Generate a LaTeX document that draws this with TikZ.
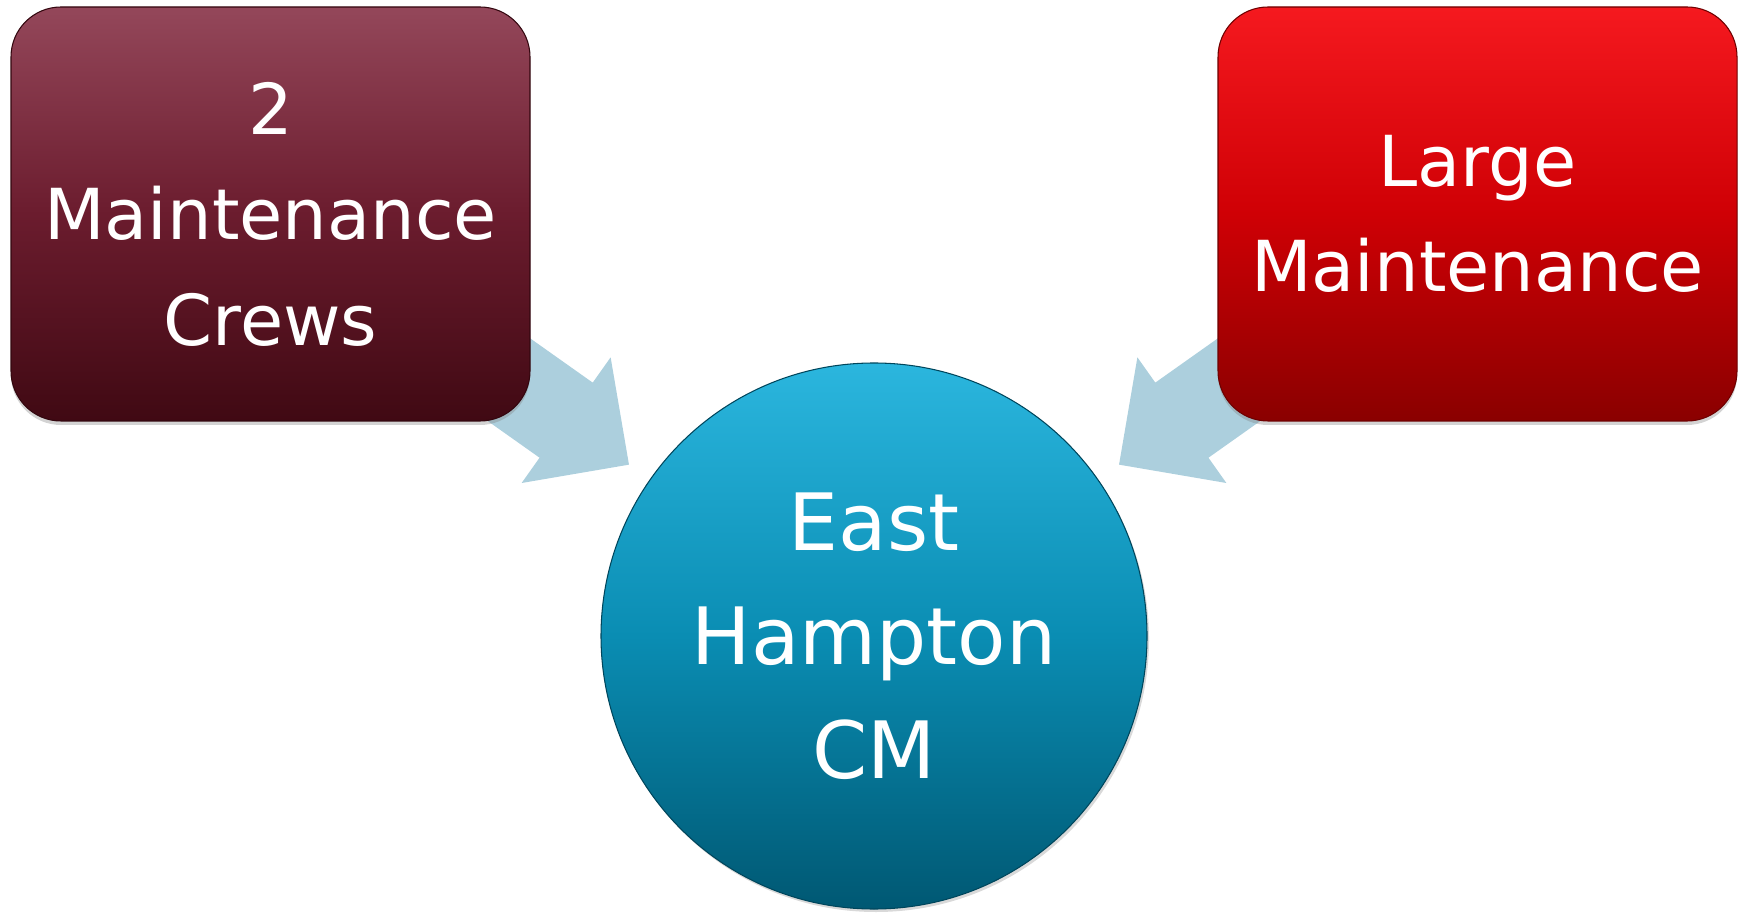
\documentclass[tikz,border=0pt]{standalone}
\usepackage{fontspec}
\setmainfont{DejaVu Sans}
\usetikzlibrary{calc}
\usetikzlibrary{backgrounds}
\usetikzlibrary{shadows}
\definecolor{MaroonTop}{HTML}{94475A}
\definecolor{MaroonMid}{HTML}{6B1C2E}
\definecolor{MaroonLow}{HTML}{400913}
\definecolor{BrightRed}{HTML}{F5191F}
\definecolor{MidRed}{HTML}{CF0005}
\definecolor{DeepRed}{HTML}{8A0000}
\definecolor{LightCyan}{HTML}{2BB6DE}
\definecolor{MidCyan}{HTML}{0A8DB3}
\definecolor{DarkCyan}{HTML}{005873}
\definecolor{PaleBlue}{HTML}{ACCFDD}

\begin{document}
\begin{tikzpicture}[
  box/.style={rectangle, rounded corners=1cm, minimum width=10.38cm,
    minimum height=8.28cm, inner sep=0pt, align=center, text=white,
    font=\fontsize{40}{60}\selectfont,
    drop shadow={opacity=0.35, shadow xshift=0pt, shadow yshift=-0.08cm}},
  hubcircle/.style={circle, minimum size=10.92cm, inner sep=0pt,
    align=center, text=white, font=\fontsize{45}{65}\selectfont,
    draw=DarkCyan!80!black, line width=0.6pt,
    top color=LightCyan, bottom color=DarkCyan, middle color=MidCyan,
    drop shadow={opacity=0.3, shadow xshift=0.04cm, shadow yshift=-0.06cm}}]

  \useasboundingbox (0,0) rectangle (34.94,18.24);

  \node[box, draw=MaroonLow!80!black, line width=0.6pt,
    top color=MaroonTop, bottom color=MaroonLow, middle color=MaroonMid]
    (crews) at (5.41,13.96) {2\\Maintenance\\Crews};
  \node[box, draw=DeepRed!80!black, line width=0.6pt,
    top color=BrightRed, bottom color=DeepRed, middle color=MidRed]
    (large) at (29.55,13.96) {Large\\Maintenance};
  \node[hubcircle] (hub) at (17.48,5.52) {East\\Hampton\\CM};

  % block arrows, tails hidden under the boxes
  \begin{scope}[on background layer]
    \foreach \src/\ang in {crews/-35.3, large/215.3}{%
      \fill[PaleBlue, shift={($(hub.center)!5.98cm!(\src.center)$)}, rotate=\ang]
        (0,0) -- (-1.54,1.54) -- (-1.54,0.92) -- (-5,0.92)
        -- (-5,-0.92) -- (-1.54,-0.92) -- (-1.54,-1.54) -- cycle;
    }
  \end{scope}
\end{tikzpicture}
\end{document}
